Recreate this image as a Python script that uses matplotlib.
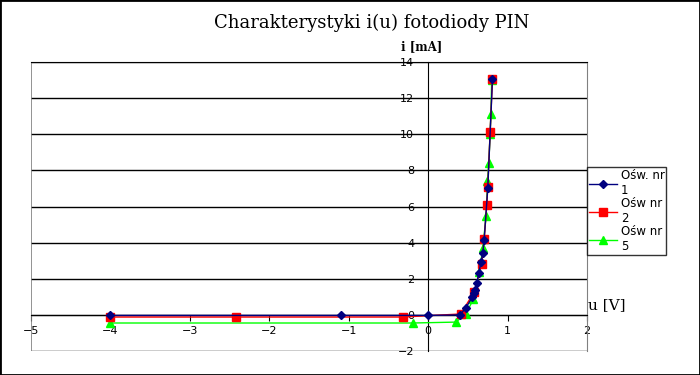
import matplotlib.pyplot as plt
from matplotlib.patches import Rectangle

# Ośw. nr 1
u1 = [-4.0, -1.1, 0.0, 0.40, 0.477, 0.557, 0.582, 0.595, 0.612, 0.637, 0.667, 0.688, 0.705, 0.751, 0.81]
i1 = [-0.03, -0.03, -0.03, 0.0, 0.4, 1.0, 1.23, 1.38, 1.75, 2.3, 2.95, 3.43, 4.14, 7.03, 13.07]
# Ośw nr 2
u2 = [-4.0, -2.42, -0.32, 0.41, 0.58, 0.675, 0.705, 0.738, 0.751, 0.78, 0.81]
i2 = [-0.12, -0.12, -0.12, 0.05, 1.27, 2.8, 4.18, 6.06, 7.09, 10.1, 13.07]
# Ośw nr 5
u3 = [-4.0, -0.19, 0.35, 0.477, 0.57, 0.646, 0.688, 0.73, 0.747, 0.764, 0.78, 0.79, 0.80]
i3 = [-0.45, -0.45, -0.4, 0.07, 0.87, 2.37, 3.73, 5.45, 7.42, 8.42, 10.0, 11.1, 13.0]

labels = ["Ośw. nr\n1", "Ośw nr\n2", "Ośw nr\n5"]
xticks = [-5, -4, -3, -2, -1, 0, 1, 2]
yticks = [-2, 0, 2, 4, 6, 8, 10, 12, 14]

fig = plt.figure(figsize=(7, 3.75), dpi=100)
ax = fig.add_axes([31 / 700, 1 - 351 / 375, 556 / 700, 289 / 375])

l3, = ax.plot(u3, i3, color="#00ff00", lw=1, marker="^", ms=6, label=labels[2], zorder=3)
l2, = ax.plot(u2, i2, color="#ff0000", lw=1, marker="s", ms=6, label=labels[1], zorder=4)
l1, = ax.plot(u1, i1, color="#000080", lw=1, marker="D", ms=4.5, label=labels[0], zorder=5)

ax.set_xlim(-5, 2)
ax.set_ylim(-2, 14)
ax.set_xticks(xticks)
ax.set_yticks(yticks)
ax.yaxis.grid(True, color="black", lw=1)
ax.set_axisbelow(True)

ax.spines["left"].set_position(("data", 0))
ax.spines["bottom"].set_position(("data", 0))
ax.spines["left"].set_color("black")
ax.spines["bottom"].set_color("black")
ax.spines["top"].set_color("black")
ax.spines["right"].set_color("gray")
ax.axvline(-5, color="gray", lw=1.2, zorder=1)

ax.tick_params(axis="x", direction="out", length=4, pad=4, labelsize=8)
ax.tick_params(axis="y", length=0, pad=10, labelsize=8)
for lab in ax.get_xticklabels():
    lab.set_clip_on(False)

fig.text(372 / 700, 1 - 23 / 375, "Charakterystyki i(u) fotodiody PIN",
         family="DejaVu Serif", fontsize=13, ha="center", va="center")
fig.text(422 / 700, 1 - 47 / 375, "i [mA]", family="DejaVu Serif",
         fontweight="bold", fontsize=8.5, ha="center", va="center")
fig.text(588 / 700, 1 - 305 / 375, "u [V]", family="DejaVu Serif",
         fontsize=11, ha="left", va="center")

fig.legend(handles=[l1, l2, l3], loc="upper left",
           bbox_to_anchor=(587 / 700, 1 - 167 / 375), borderaxespad=0,
           fontsize=8.5, frameon=True, fancybox=False, edgecolor="black",
           handlelength=2.4, labelspacing=0.0, borderpad=0.15, handletextpad=0.3)

fig.patches.append(Rectangle((0, 0), 1, 1, transform=fig.transFigure,
                             fill=False, edgecolor="black", lw=2))

fig.savefig("out.png", dpi=100)
